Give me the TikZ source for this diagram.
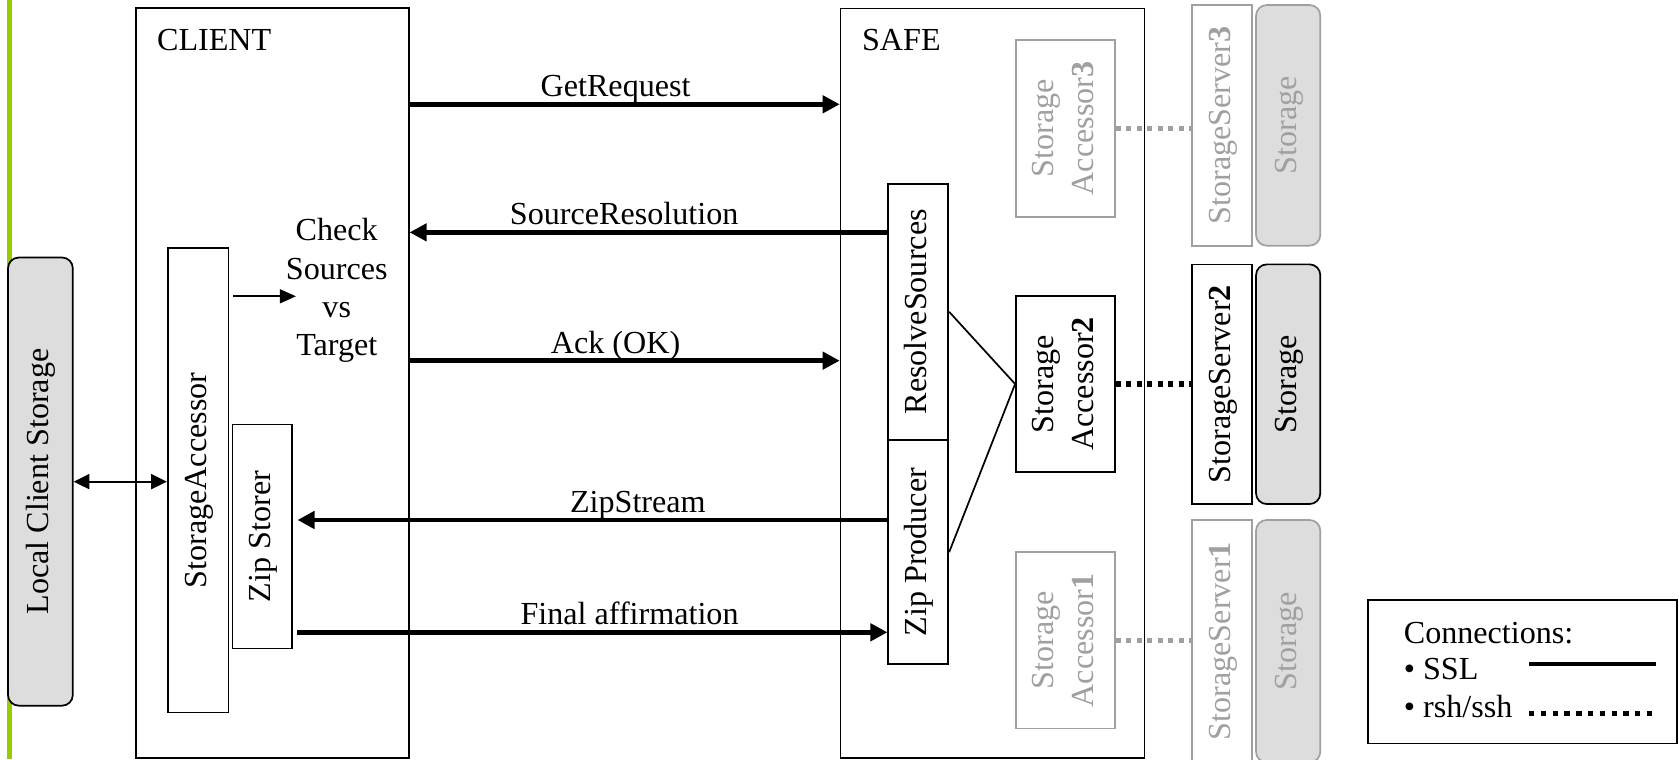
\documentclass[tikz,border=0pt]{standalone}
\usepackage{fontspec}
\setmainfont{Liberation Serif}
\usetikzlibrary{arrows.meta}
\definecolor{lgreen}{RGB}{153,204,0}
\definecolor{fillgrey}{RGB}{221,221,221}
\definecolor{dimgrey}{RGB}{160,160,160}
\newcommand{\vlab}[1]{\rotatebox{90}{\begin{tabular}{@{}c@{}}#1\end{tabular}}}
\begin{document}
\begin{tikzpicture}[x=0.5pt,y=-0.5pt,
  font=\fontsize{15}{18.5}\selectfont,
  box/.style={draw, line width=0.8pt, inner sep=0pt, fill=white},
  dimbox/.style={box, draw=dimgrey, text=dimgrey},
  stor/.style={box, fill=fillgrey, rounded corners=5pt},
  ssl/.style={line width=2.2pt, -{Triangle[length=8pt,width=8pt]}},
  thinarrow/.style={line width=0.8pt, -{Triangle[length=7.5pt,width=6.5pt]}},
  dblarrow/.style={line width=0.8pt, {Triangle[length=7.3pt,width=7pt]}-{Triangle[length=7.3pt,width=7pt]}},
  rsh/.style={line width=2.4pt, dash pattern=on 2.5pt off 2.4pt},
  lbl/.style={anchor=base, yshift=3.5pt, inner sep=0pt}
]
\useasboundingbox (0,0) rectangle (1568,709);
% green bar
\fill[lgreen] (6.5,0) rectangle (11.5,709);

% outer boxes
\node[box, minimum width=127.35pt, minimum height=350.15pt] (client) at (254.35,357.85) {};
\node[box, minimum width=141.85pt, minimum height=349.9pt] (safe) at (926.85,357.7) {};
\node[anchor=base west, inner sep=0pt] (clientlbl) at (146.3,47.5) {CLIENT};
\node[anchor=base west, inner sep=0pt] (safelbl) at (804.7,46.7) {SAFE};

% local storage
\node[stor, minimum width=30.25pt, minimum height=209.25pt] (lcs) at (37.75,449.75) {\vlab{Local Client Storage}};

% client side
\node[box, minimum width=28.45pt, minimum height=216.75pt] (sa) at (185.05,448.65) {\vlab{StorageAccessor}};
\node[box, minimum width=28pt, minimum height=104.6pt] (zs) at (245,501.1) {\vlab{Zip Storer}};
\node[align=center, inner sep=0pt, font=\fontsize{15}{17.9}\selectfont] (check) at (314.5,271.5) {Check\\Sources\\vs\\Target};

% safe side
\node[box, minimum width=28pt, minimum height=119.7pt] (rs) at (857.6,291.2) {\vlab{ResolveSources}};
\node[box, minimum width=28pt, minimum height=104.75pt] (zp) at (857.6,515.65) {\vlab{Zip Producer}};
\node[dimbox, minimum width=46.1pt, minimum height=82.5pt] (sa3) at (994.9,119.9) {\vlab{Storage\\Accessor\textbf{3}}};
\node[box, minimum width=46.1pt, minimum height=82.2pt] (sa2) at (994.9,358.6) {\vlab{Storage\\Accessor\textbf{2}}};
\node[dimbox, minimum width=46.1pt, minimum height=82.2pt] (sa1) at (994.9,598) {\vlab{Storage\\Accessor\textbf{1}}};

% servers
\node[dimbox, minimum width=28pt, minimum height=112.35pt] (ss3) at (1141.5,117.05) {\vlab{StorageServer\textbf{3}}};
\node[stor, draw=dimgrey, text=dimgrey, minimum width=30pt, minimum height=112.35pt] (st3) at (1203,117.05) {\vlab{Storage}};
\node[box, minimum width=28pt, minimum height=111.9pt] (ss2) at (1141.5,358.8) {\vlab{StorageServer\textbf{2}}};
\node[stor, minimum width=30pt, minimum height=111.9pt] (st2) at (1203,358.8) {\vlab{Storage}};
\node[dimbox, minimum width=28pt, minimum height=113.2pt] (ss1) at (1141.5,598.8) {\vlab{StorageServer\textbf{1}}};
\node[stor, draw=dimgrey, text=dimgrey, minimum width=30pt, minimum height=113.2pt] (st1) at (1203,598.8) {\vlab{Storage}};

% helper levels
\coordinate (yget) at (0,97.4);
\coordinate (ysrc) at (0,217);
\coordinate (yack) at (0,336.8);
\coordinate (yzip) at (0,485.6);
\coordinate (yfin) at (0,590.5);
\coordinate (ydbl) at (0,449.8);
\coordinate (chkin) at (276.4,276.7);

% SSL arrows
\draw[ssl] (client.east |- yget) -- (safe.west |- yget) node[lbl, pos=.479] (lget) {GetRequest};
\draw[ssl] (rs.west |- ysrc) -- (client.east |- ysrc) node[lbl, pos=.551] (lsrc) {SourceResolution};
\draw[ssl] (client.east |- yack) -- (safe.west |- yack) node[lbl, pos=.479] (lack) {Ack (OK)};
\draw[ssl, shorten >=2pt] (zp.west |- yzip) -- (zs.east |- yzip) node[lbl, pos=.42] (lzip) {ZipStream};
\draw[ssl, shorten <=2pt] (zs.east |- yfin) -- (zp.west |- yfin) node[lbl, pos=.566] (lfin) {Final affirmation};

% thin arrows
\draw[thinarrow, shorten <=1.75pt] (sa.east |- chkin) -- (chkin);
\draw[dblarrow] (lcs.east |- ydbl) -- (sa.west |- ydbl);

% internal lines
\draw[line width=0.8pt] (rs.east) -- (sa2.west) -- (zp.east);

% rsh/ssh links
\draw[rsh, dimgrey] (sa3.east) -- (sa3.east -| ss3.west);
\draw[rsh] (sa2.east) -- (sa2.east -| ss2.west);
\draw[rsh, dimgrey] (sa1.east) -- (sa1.east -| ss1.west);

% legend
\node[box, minimum width=144.35pt, minimum height=66.95pt] (legend) at (1421.65,627.25) {};
\node[anchor=base west, inner sep=0pt] (lconn) at (1310.6,600.8) {Connections:};
\node[anchor=base west, inner sep=0pt] (lssl) at (1310.6,634.1) {\textbullet\ SSL};
\node[anchor=base west, inner sep=0pt] (lrsh) at (1310.6,669.9) {\textbullet\ rsh/ssh};
\coordinate (ls1) at (1428,620.1);
\coordinate (ls2) at (1546.5,620.1);
\coordinate (lr1) at (1428,666.2);
\coordinate (lr2) at (1544,666.2);
\draw[line width=2.1pt] (ls1) -- (ls2);
\draw[line width=2.2pt, dash pattern=on 2.5pt off 3pt] (lr1) -- (lr2);
\end{tikzpicture}
\end{document}
